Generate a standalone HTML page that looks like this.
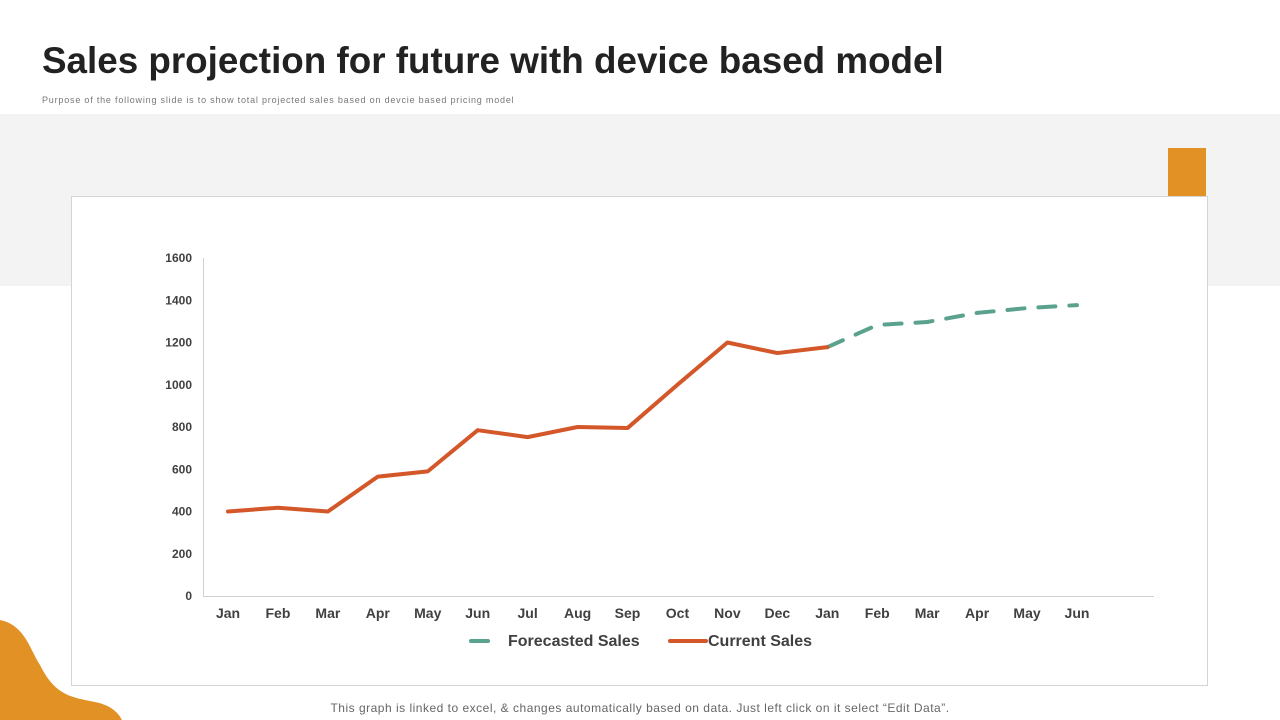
<!DOCTYPE html>
<html><head><meta charset="utf-8"><style>
body{margin:0;width:1280px;height:720px;position:relative;overflow:hidden;background:#fff;font-family:"Liberation Sans",Arial,sans-serif}
.abs{position:absolute}
</style></head><body>
<div class="abs" style="left:42px;top:40px;font-size:36.8px;font-weight:bold;color:#222">Sales projection for future with device based model</div>
<div class="abs" style="left:42px;top:95px;font-size:9px;letter-spacing:0.8px;color:#777">Purpose of the following slide is to show total projected sales based on devcie based pricing model</div>
<div class="abs" style="left:0;top:114px;width:1280px;height:172px;background:#f3f3f3"></div>
<div class="abs" style="left:1168px;top:148px;width:38px;height:48px;background:#e29125"></div>
<div class="abs" style="left:71px;top:196px;width:1135px;height:488px;background:#fff;border:1px solid #d4d4d4"></div>
<svg class="abs" style="left:0;top:600px" width="200" height="120"><path d="M0,20 C25,25 30,50 40,65 C55,95 70,97 95,102 C110,105 118,112 122,120 L0,120 Z" fill="#e29125"/></svg>
<svg id="chart" class="abs" style="left:0;top:0" width="1280" height="720"></svg>
<div class="abs" style="left:0;width:1280px;text-align:center;top:701px;font-size:12px;letter-spacing:0.5px;color:#666">This graph is linked to excel, &amp; changes automatically based on data. Just left click on it select “Edit Data”.</div>
<script>
const categories=["Jan","Feb","Mar","Apr","May","Jun","Jul","Aug","Sep","Oct","Nov","Dec","Jan","Feb","Mar","Apr","May","Jun"];
const currentSales=[400,418,400,565,590,785,752,800,795,1000,1200,1150,1178,null,null,null,null,null];
const forecastSales=[null,null,null,null,null,null,null,null,null,null,null,null,1178,1283,1297,1340,1363,1377];
const yTicks=[0,200,400,600,800,1000,1200,1400,1600];
const svg=document.getElementById('chart');
const NS='http://www.w3.org/2000/svg';
const x0=228,step=49.94,yBase=596,yTop=258,yMax=1600;
const X=i=>x0+i*step;
const Y=v=>yBase-(v/yMax)*(yBase-yTop);
function mk(t,a){const e=document.createElementNS(NS,t);for(const k in a)e.setAttribute(k,a[k]);svg.appendChild(e);return e;}
let ax=mk('line',{x1:203.5,y1:258,x2:203.5,y2:596,stroke:'#d0d0d0'});


let bx=mk('line',{x1:203,y1:596.5,x2:1154,y2:596.5,stroke:'#d0d0d0'});


yTicks.forEach(v=>{const t=mk('text',{x:192,y:Y(v)+4,'text-anchor':'end','font-size':12,'font-weight':'bold',fill:'#404040'});t.textContent=v;

});
categories.forEach((c,i)=>{const t=mk('text',{x:X(i),y:618,'text-anchor':'middle','font-size':14,'font-weight':'bold',fill:'#404040'});t.textContent=c;

});
function path(arr){let d='';arr.forEach((v,i)=>{if(v==null)return;d+=(d?'L':'M')+X(i)+','+Y(v);});return d;}
const f=mk('path',{d:path(forecastSales),fill:'none',stroke:'#5ba28e','stroke-width':4,'stroke-dasharray':'17 14','stroke-linecap':'round','stroke-linejoin':'round'});


const c=mk('path',{d:path(currentSales),fill:'none',stroke:'#d4572a','stroke-width':4,'stroke-linejoin':'round','stroke-linecap':'round'});


const l1=mk('line',{x1:471,y1:641,x2:488,y2:641,stroke:'#5ba28e','stroke-width':4,'stroke-linecap':'round'});


const t1=mk('text',{x:508,y:646,'font-size':16,'font-weight':'bold',fill:'#404040'});t1.textContent='Forecasted Sales';


const l2=mk('line',{x1:670,y1:641,x2:706,y2:641,stroke:'#d4572a','stroke-width':4,'stroke-linecap':'round'});


const t2=mk('text',{x:708,y:646,'font-size':16,'font-weight':'bold',fill:'#404040'});t2.textContent='Current Sales';


</script>
</body></html>
